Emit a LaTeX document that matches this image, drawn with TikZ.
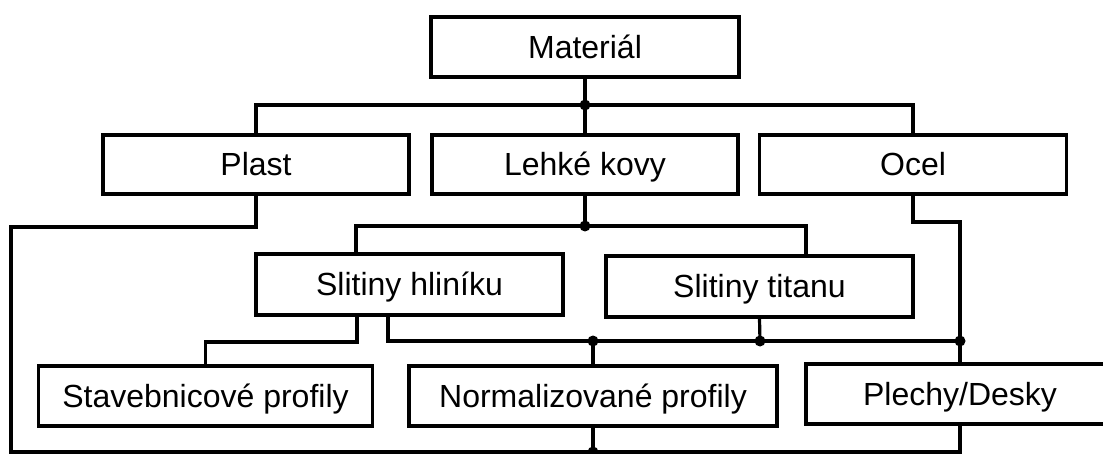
\documentclass[tikz,border=0pt]{standalone}
\usepackage{fontspec}
\setmainfont{Liberation Sans}
\begin{document}
\begin{tikzpicture}[x=1pt,y=-1pt,
  box/.style={draw,line width=3.2pt,rectangle,inner sep=0pt,minimum height=60pt,
    text height=23pt,text depth=0pt,
    font=\fontsize{32}{38}\selectfont},
  conn/.style={line width=3.2pt},
  dot/.style={circle,fill,inner sep=0pt,minimum size=11pt}]
\useasboundingbox (0,0) rectangle (1103,454);
% boxes
\node[box,minimum width=308pt] (mat) at (585,47) {Materiál};
\node[box,minimum width=306pt,minimum height=59pt] (plast) at (256,164.5) {Plast};
\node[box,minimum width=306pt,minimum height=59pt] (lehke) at (585,164.5) {Lehké kovy};
\node[box,minimum width=307pt,minimum height=59pt] (ocel) at (913,164.5) {Ocel};
\node[box,minimum width=307pt,minimum height=61pt] (hlin) at (409.5,284.5) {Slitiny hliníku};
\node[box,minimum width=307pt,minimum height=61pt] (tit) at (759.5,286.5) {Slitiny titanu};
\node[box,minimum width=334pt] (stav) at (205.5,396) {Stavebnicové profily};
\node[box,minimum width=368pt] (norm) at (593,396) {Normalizované profily};
\node[box,minimum width=308pt] (plech) at (960,394) {Plechy/Desky};
% junction coordinates
\coordinate (j1) at (585,105);
\coordinate (j2) at (585,226);
\coordinate (a1) at (356,226);
\coordinate (a2) at (806,226);
\coordinate (p1) at (11,227);
\coordinate (p2) at (11,452);
\coordinate (o1) at (960,222);
\coordinate (h1) at (357,342);
\coordinate (h2) at (388,341);
\coordinate (d1) at (593,341);
\coordinate (d2) at (760,341);
\coordinate (d3) at (960,341);
\coordinate (b1) at (593,452);
% connectors
\draw[conn] (mat.south) -- (j1) -- (lehke.north);
\draw[conn] (plast.north) |- (j1) -| (ocel.north);
\draw[conn] (plast.south) |- (p1) -- (p2) -| (plech.south);
\draw[conn] (lehke.south) -- (j2);
\draw[conn] (a1 |- hlin.north) -- (a1) -- (a2) -- (a2 |- tit.north);
\draw[conn] (ocel.south) |- (o1) -- (plech.north);
\draw[conn] (h1 |- hlin.south) -- (h1) -| (stav.north);
\draw[conn] (h2 |- hlin.south) -- (h2) -- (d3);
\draw[conn] (tit.south) -- (d2);
\draw[conn] (d1) -- (norm.north);
\draw[conn] (norm.south) -- (b1);
% dots
\node[dot] (k1) at (j1) {};
\node[dot] (k2) at (j2) {};
\node[dot] (k3) at (d1) {};
\node[dot] (k4) at (d2) {};
\node[dot] (k5) at (d3) {};
\node[dot] (k6) at (b1) {};
\end{tikzpicture}
\end{document}
